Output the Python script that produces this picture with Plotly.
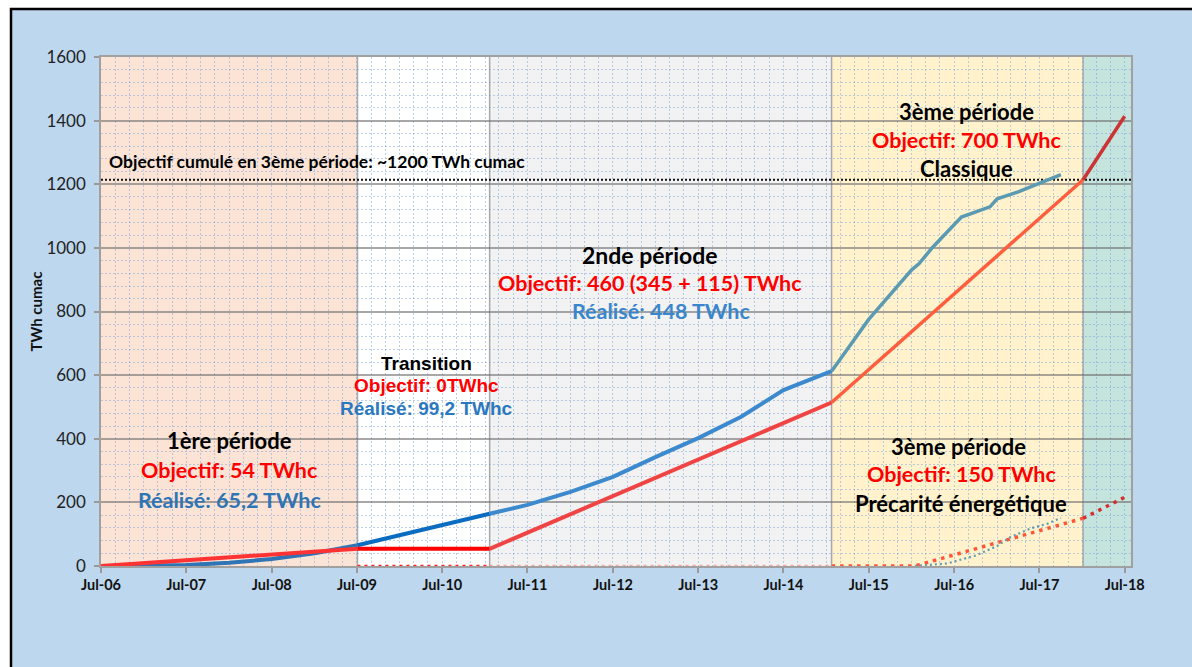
import plotly.graph_objects as go

# ---- data -------------------------------------------------------------
tick_dates = [f"{y}-07-01" for y in range(2006, 2019)]
x_start, x_end = "2006-07-01", "2018-07-28"

# period boundaries
P1_END = "2009-07-03"
TR_END = "2011-01-20"
P2_END = "2015-01-23"
P3_END = "2018-01-04"
period_edges = [x_start, P1_END, TR_END, P2_END, P3_END, x_end]
period_fills = ["#FBE4D6", "#FFFFFF", "#F2F2F2", "#FFF2CC", "#C5E4DE"]

# cumulative objective (TWh cumac), one segment per period
obj_p1_x = [x_start, P1_END]
obj_p1_y = [0, 54]
obj_tr_x = [P1_END, TR_END]
obj_tr_y = [54, 54]
obj_p2_x = [TR_END, P2_END]
obj_p2_y = [54, 514]
obj_p3_x = [P2_END, P3_END]
obj_p3_y = [514, 1214]
obj_p4_x = [P3_END, "2018-07-01"]
obj_p4_y = [1214, 1414]

# cumulative achieved (TWh cumac)
real_p1_x = [x_start, "2007-01-01", "2007-07-01", "2008-01-01", "2008-07-01", "2009-01-01", P1_END]
real_p1_y = [0, 0.5, 3, 10, 22, 40, 65.2]
real_tr_x = [P1_END, TR_END]
real_tr_y = [65.2, 164.4]
real_p2_x = [TR_END, "2011-07-01", "2012-01-01", "2012-07-01", "2013-01-01",
             "2013-07-01", "2014-01-01", "2014-07-01", P2_END]
real_p2_y = [164.4, 192, 233, 280, 343, 402, 469, 553, 612.4]
real_p3_x = [P2_END, "2015-07-01", "2016-01-01", "2016-02-01", "2016-04-01", "2016-06-01",
             "2016-08-01", "2016-12-01", "2017-01-01", "2017-04-01", "2017-10-01"]
real_p3_y = [612.4, 775, 931, 950, 1003, 1050, 1097, 1129, 1154, 1176, 1230]

# fuel-poverty (précarité) objective and achieved
prec_obj_tr_x = [P1_END, TR_END]
prec_obj_tr_y = [0, 0]
prec_obj_p2_x = [TR_END, P2_END]
prec_obj_p2_y = [0, 0]
prec_obj_p3_x = [P2_END, "2016-01-15", P3_END]
prec_obj_p3_y = [0, 0, 150]
prec_obj_p4_x = [P3_END, "2018-07-01"]
prec_obj_p4_y = [150, 216]

prec_real_x = ["2016-01-15", "2016-06-01", "2016-10-01", "2017-01-01", "2017-03-01",
               "2017-06-01", "2017-08-01", "2017-10-01"]
prec_real_y = [0, 8, 33, 63, 92, 120, 132, 151]

goal_p3 = 1214

# ---- figure -----------------------------------------------------------
fig = go.Figure()

def line(x, y, color, width=4, dash="solid"):
    fig.add_trace(go.Scatter(x=x, y=y, mode="lines",
                             line=dict(color=color, width=width, dash=dash),
                             hoverinfo="skip", showlegend=False))

# dotted 3rd-period cumulative goal
line([x_start, x_end], [goal_p3, goal_p3], "#111111", width=2, dash="2px,2px")

# précarité series (dotted)
line(prec_obj_tr_x, prec_obj_tr_y, "#FF2020", width=2.5, dash="3px,4px")
line(prec_obj_p2_x, prec_obj_p2_y, "rgba(255,90,90,0.5)", width=2.5, dash="3px,4px")
line(prec_obj_p3_x, prec_obj_p3_y, "#FF553A", width=3.5, dash="3.5px,5px")
line(prec_obj_p4_x, prec_obj_p4_y, "#D03030", width=3.5, dash="3.5px,5px")
line(prec_real_x, prec_real_y, "#5E9DB3", width=2.2, dash="2px,3px")

# achieved
line(real_p1_x, real_p1_y, "#2F74B5")
line(real_tr_x, real_tr_y, "#0A6DC2")
line(real_p2_x, real_p2_y, "#3C8ACD")
line(real_p3_x, real_p3_y, "#5A9AB2", width=3.5)

# objectives
line(obj_p1_x, obj_p1_y, "#FF3333")
line(obj_tr_x, obj_tr_y, "#FF0000")
line(obj_p2_x, obj_p2_y, "#F04444")
line(obj_p3_x, obj_p3_y, "#FF5E3E", width=3.5)
line(obj_p4_x, obj_p4_y, "#CC3333", width=3.5)

# ---- background: blue card with black frame, period bands ------------
L, T, R, B = 101, 57, 1131, 566
W, H = 1192, 667
def px_x(px):
    return (px - L) / (R - L)
def px_y(py):
    return (B - py) / (B - T)

shapes = [dict(type="rect", xref="paper", yref="paper",
               x0=px_x(11), x1=px_x(1250), y0=px_y(720), y1=px_y(9),
               fillcolor="#BDD7EE", line=dict(color="#000000", width=2.5), layer="below")]
for i, fill in enumerate(period_fills):
    shapes.append(dict(type="rect", xref="x", yref="paper",
                       x0=period_edges[i], x1=period_edges[i + 1], y0=0, y1=1,
                       fillcolor=fill, line=dict(width=0), layer="below"))
for edge in period_edges[1:5]:
    shapes.append(dict(type="line", xref="x", yref="paper", x0=edge, x1=edge, y0=0, y1=1,
                       line=dict(color="#A8A8A8", width=1.5), layer="below"))
fig.update_layout(shapes=shapes)

# ---- text -------------------------------------------------------------
CAL = "Lato"
ARI = "Liberation Sans"
RED = "#FF0000"
BLUE = "#2E75B6"
BLACK = "#000000"

def note(x, y, text, color, size=21.5, family=CAL, xanchor="center"):
    fig.add_annotation(x=x, y=y, xref="x", yref="y", text=f"<b>{text}</b>", showarrow=False,
                       xanchor=xanchor, yanchor="middle",
                       font=dict(family=family, size=size, color=color))

note("2006-07-28", 1270, "Objectif cumulé en 3ème période: ~1200 TWh cumac", BLACK, size=17.5, xanchor="left")

note("2008-01-01", 393, "1ère période", BLACK, size=22)
note("2008-01-01", 302, "Objectif: 54 TWhc", RED)
note("2008-01-01", 207, "Réalisé: 65,2 TWhc", BLUE)

note("2010-04-26", 635, "Transition", BLACK, size=19, family=ARI)
note("2010-04-26", 566, "Objectif: 0TWhc", RED, size=19, family=ARI)
note("2010-04-26", 494, "Réalisé: 99,2 TWhc", "#2A78C0", size=19, family=ARI)

note("2012-12-08", 978, "2nde période", BLACK, size=23)
note("2012-12-08", 890, "Objectif: 460 (345 + 115) TWhc", RED)
note("2013-01-24", 802, "Réalisé: 448 TWhc", "#3A86CC")

note("2016-08-22", 1430, "3ème période", BLACK, size=22)
note("2016-08-22", 1339, "Objectif: 700 TWhc", RED)
note("2016-08-22", 1251, "Classique", BLACK, size=22)

note("2016-07-19", 377, "3ème période", BLACK, size=22)
note("2016-08-01", 289, "Objectif: 150 TWhc", RED)
note("2016-08-01", 195, "Précarité énergétique", BLACK, size=22)

# ---- axes -------------------------------------------------------------
minor_grid = "rgba(120,160,215,0.5)"
fig.update_xaxes(
    type="date", range=[x_start, x_end],
    tickvals=tick_dates, tickformat="%b-%y",
    tickfont=dict(family=CAL, size=14.5, color="#111111", weight="bold"),
    ticks="outside", ticklen=5, tickcolor="#999999", tickwidth=1.5,
    showline=True, linecolor="#A0A0A0", linewidth=1.5, mirror=True,
    showgrid=False, zeroline=False,
    minor=dict(dtick="M2", tick0="2006-07-01", showgrid=True, gridcolor=minor_grid,
               griddash="2px,2px", gridwidth=1, ticks=""),
)
fig.update_yaxes(
    range=[0, 1600], dtick=200, tick0=0,
    tickfont=dict(family=CAL, size=17, color="#222222"),
    ticks="outside", ticklen=5, tickcolor="#999999", tickwidth=1.5,
    ticklabelstandoff=5,
    showline=True, linecolor="#A0A0A0", linewidth=1.5, mirror=True,
    showgrid=True, gridcolor="rgba(110,110,110,0.6)", gridwidth=1.5,
    zeroline=False,
    title=dict(text="<b>TWh cumac</b>", font=dict(family=CAL, size=15, color="#111111"), standoff=0),
    minor=dict(dtick=40, showgrid=True, gridcolor=minor_grid, griddash="2px,2px", gridwidth=1, ticks=""),
)

fig.update_layout(
    width=W, height=H,
    margin=dict(l=L, r=W - R, t=T, b=H - B, autoexpand=False),
    paper_bgcolor="#FFFFFF", plot_bgcolor="rgba(0,0,0,0)",
    showlegend=False,
)

fig.write_html("out.html")
